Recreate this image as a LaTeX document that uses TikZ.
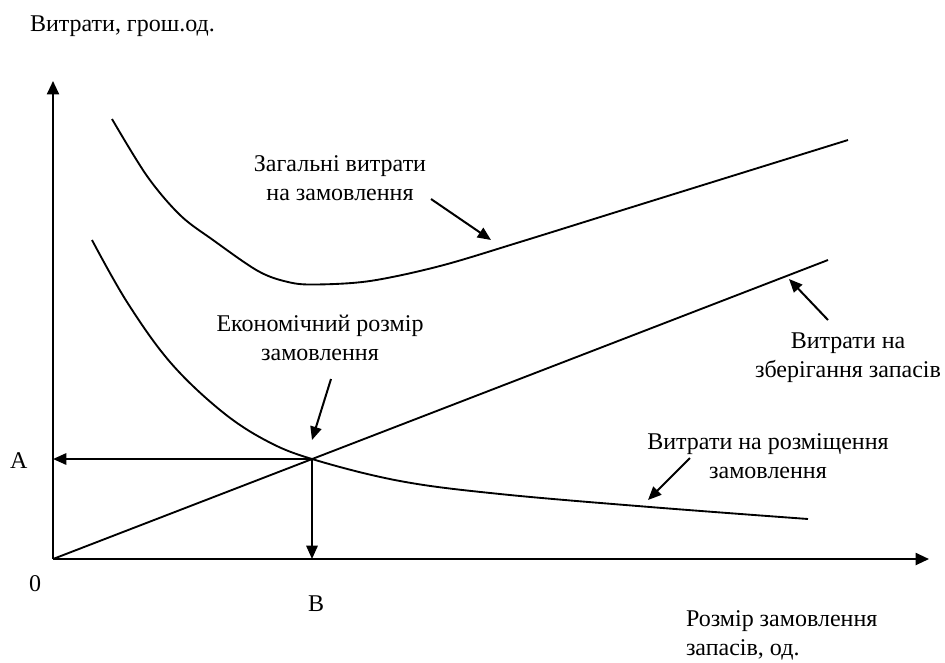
\documentclass[tikz,border=0pt]{standalone}
\usepackage{fontspec}
\setmainfont{Liberation Serif}
\usetikzlibrary{arrows.meta}
\begin{document}
\begin{tikzpicture}[x=0.75pt,y=-0.75pt,
  line width=1.5pt,
  axis/.style={-{Triangle[length=10pt,width=9pt]}},
  pointer/.style={-{Triangle[length=10pt,width=8.5pt]}},
  curve/.style={line width=1.4pt},
  lbl/.style={inner sep=0pt,font=\fontsize{18}{21.5}\selectfont}]
\useasboundingbox (0,0) rectangle (945,662);
% axes
\coordinate (O) at (53,559);
\coordinate (Ytip) at (53,81);
\coordinate (Xtip) at (929,559);
\coordinate (E) at (312,459);
\coordinate (Aax) at (53,459);
\coordinate (Bax) at (312,559);
\draw[axis] (O) -- (Ytip);
\draw[axis] (O) -- (Xtip);
% storage cost line
\coordinate (Send) at (828,260);
\draw[curve] (O) -- (Send);
% placement cost curve
\draw[curve] plot[smooth,tension=0.6] coordinates {(92,240) (127,302) (170,362) (220,410) (265,440) (312,459) (400,481) (500,494) (650,507) (808,519)};
% total cost curve
\draw[curve] plot[smooth,tension=0.55] coordinates {(112,119) (147,176) (180,215) (213,240) (258,271) (288,282) (315,284.5) (370,281) (440,266) (520,242) (650,201.5) (848,140)};
% projections
\draw[pointer] (E) -- (Aax);
\draw[pointer] (E) -- (Bax);
% labels
\node[lbl,anchor=base west] (ylab) at (29,31) {Витрати, грош.од.};
\node[lbl,anchor=base west,align=left] (xlab) at (685,655) {Розмір замовлення\\запасів, од.};
\node[lbl,anchor=base west] (Alab) at (9,468) {A};
\node[lbl,anchor=base west] (Olab) at (28,591) {0};
\node[lbl,anchor=base west] (Blab) at (307,611) {B};
\node[lbl,anchor=base,align=center] (total) at (340,200) {Загальні витрати\\на замовлення};
\node[lbl,anchor=base,align=center] (econ) at (320,360) {Економічний розмір\\замовлення};
\node[lbl,anchor=base,align=center] (stor) at (848,377) {Витрати на\\зберігання запасів};
\node[lbl,anchor=base,align=center] (place) at (768,478) {Витрати на розміщення\\замовлення};
% label pointers
\coordinate (t1) at (431,199); \coordinate (t2) at (491,240);
\coordinate (e1) at (331,379); \coordinate (e2) at (312,440);
\coordinate (s1) at (828,320); \coordinate (s2) at (789,279);
\coordinate (p1) at (690,458); \coordinate (p2) at (648,500);
\draw[pointer] (t1) -- (t2);
\draw[pointer] (e1) -- (e2);
\draw[pointer] (s1) -- (s2);
\draw[pointer] (p1) -- (p2);
\end{tikzpicture}
\end{document}
